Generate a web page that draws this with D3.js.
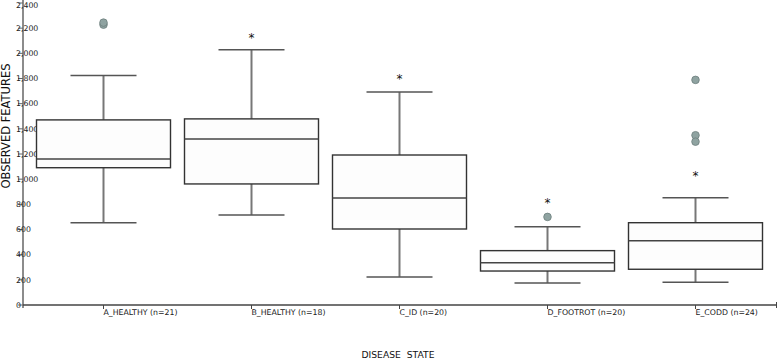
<!DOCTYPE html>
<html><head><meta charset="utf-8">
<script src="https://cdn.jsdelivr.net/npm/d3@7"></script>
<style>html,body{margin:0;padding:0;background:#fff}svg{display:block}text{font-family:"DejaVu Sans",sans-serif}</style>
</head><body><svg id="c" width="778" height="362"></svg>
<script>
const categories = ["A_HEALTHY (n=21)","B_HEALTHY (n=18)","C_ID (n=20)","D_FOOTROT (n=20)","E_CODD (n=24)"];
const lowerWhisker = [654, 715, 223, 175, 180];
const q1 = [1091, 962, 604, 270, 284];
const median = [1161, 1320, 850, 336, 511];
const q3 = [1471, 1479, 1192, 432, 654];
const upperWhisker = [1823, 2029, 1693, 622, 853];
const outliers = [[2228, 2244], [], [], [700], [1789, 1349, 1298]];
const extremes = [[], [2149], [1820], [835], [1052]];
const yTicks = [0,200,400,600,800,1000,1200,1400,1600,1800,2000,2200,2400];

const svg = d3.select("#c");
const x = d3.scalePoint().domain(categories).range([103.5, 695.5]);
const y = d3.scaleLinear().domain([0, 2400]).range([305, 3]);
const halfBox = 67, halfCap = 33;
const fmt = d3.format(",");

// y axis
const ya = svg.append("g").attr("transform","translate(23,0)");
ya.append("line").attr("y1", y(2400)-3).attr("y2", y(0)+3).attr("stroke","#666").attr("stroke-width",1.5);
ya.selectAll("line.t").data(yTicks).join("line").attr("class","t")
  .attr("x1",-5).attr("x2",0).attr("y1",d=>y(d)).attr("y2",d=>y(d)).attr("stroke","#666").attr("stroke-width",1);
ya.selectAll("text").data(yTicks).join("text")
  .attr("x",-7).attr("y",d=>Math.max(y(d),5)).attr("dy","0.35em").attr("font-size",7.8).attr("fill","#222")
  .text(d=>fmt(d));

// x axis
const xa = svg.append("g");
xa.append("line").attr("x1",23).attr("x2",777).attr("y1",305).attr("y2",305).attr("stroke","#444").attr("stroke-width",1.5);
xa.append("line").attr("x1",776.5).attr("x2",776.5).attr("y1",302).attr("y2",308).attr("stroke","#444").attr("stroke-width",1);
xa.selectAll("line.t").data(categories).join("line").attr("class","t")
  .attr("x1",d=>x(d)).attr("x2",d=>x(d)).attr("y1",305).attr("y2",309).attr("stroke","#444").attr("stroke-width",1);
xa.selectAll("text").data(categories).join("text")
  .attr("x",d=>x(d)).attr("y",312).attr("dy","0.35em").attr("font-size",7.8).attr("fill","#222")
  .text(d=>d);

svg.append("text").attr("x",398).attr("y",358).attr("text-anchor","middle").attr("font-size",9.2).attr("fill","#111")
  .style("word-spacing","3px").text("DISEASE STATE");
svg.append("text").attr("transform","translate(10,126) rotate(-90)").attr("text-anchor","middle")
  .attr("font-size",11.5).attr("fill","#111").text("OBSERVED FEATURES");

const idx = categories.map((c,i)=>i);
const g = svg.append("g");
// whiskers
g.selectAll("line.wu").data(idx).join("line").attr("x1",i=>x(categories[i])).attr("x2",i=>x(categories[i]))
  .attr("y1",i=>y(q3[i])).attr("y2",i=>y(upperWhisker[i])).attr("stroke","#777").attr("stroke-width",2);
g.selectAll("line.wl").data(idx).join("line").attr("x1",i=>x(categories[i])).attr("x2",i=>x(categories[i]))
  .attr("y1",i=>y(q1[i])).attr("y2",i=>y(lowerWhisker[i])).attr("stroke","#777").attr("stroke-width",2);
g.selectAll("line.cu").data(idx).join("line").attr("x1",i=>x(categories[i])-halfCap).attr("x2",i=>x(categories[i])+halfCap)
  .attr("y1",i=>y(upperWhisker[i])).attr("y2",i=>y(upperWhisker[i])).attr("stroke","#555").attr("stroke-width",1.5);
g.selectAll("line.cl").data(idx).join("line").attr("x1",i=>x(categories[i])-halfCap).attr("x2",i=>x(categories[i])+halfCap)
  .attr("y1",i=>y(lowerWhisker[i])).attr("y2",i=>y(lowerWhisker[i])).attr("stroke","#555").attr("stroke-width",1.5);
// boxes
g.selectAll("rect").data(idx).join("rect").attr("x",i=>x(categories[i])-halfBox).attr("width",halfBox*2)
  .attr("y",i=>y(q3[i])).attr("height",i=>y(q1[i])-y(q3[i]))
  .attr("fill","#fdfdfd").attr("stroke","#333").attr("stroke-width",1.4);
g.selectAll("line.m").data(idx).join("line").attr("x1",i=>x(categories[i])-halfBox).attr("x2",i=>x(categories[i])+halfBox)
  .attr("y1",i=>y(median[i])).attr("y2",i=>y(median[i])).attr("stroke","#444").attr("stroke-width",1.5);
// outliers
const outPts = outliers.flatMap((arr,i)=>arr.map(v=>({i,v})));
g.selectAll("circle").data(outPts).join("circle").attr("cx",d=>x(categories[d.i])).attr("cy",d=>y(d.v)).attr("r",3.8)
  .attr("fill","#8fa3a1").attr("stroke","#6d7f7e").attr("stroke-width",0.8);
const extPts = extremes.flatMap((arr,i)=>arr.map(v=>({i,v})));
g.selectAll("text.ex").data(extPts).join("text").attr("class","ex").attr("x",d=>x(categories[d.i])).attr("y",d=>y(d.v))
  .attr("dy","0.6em").attr("text-anchor","middle").attr("font-size",12).attr("fill","#111").text("*");
</script></body></html>
